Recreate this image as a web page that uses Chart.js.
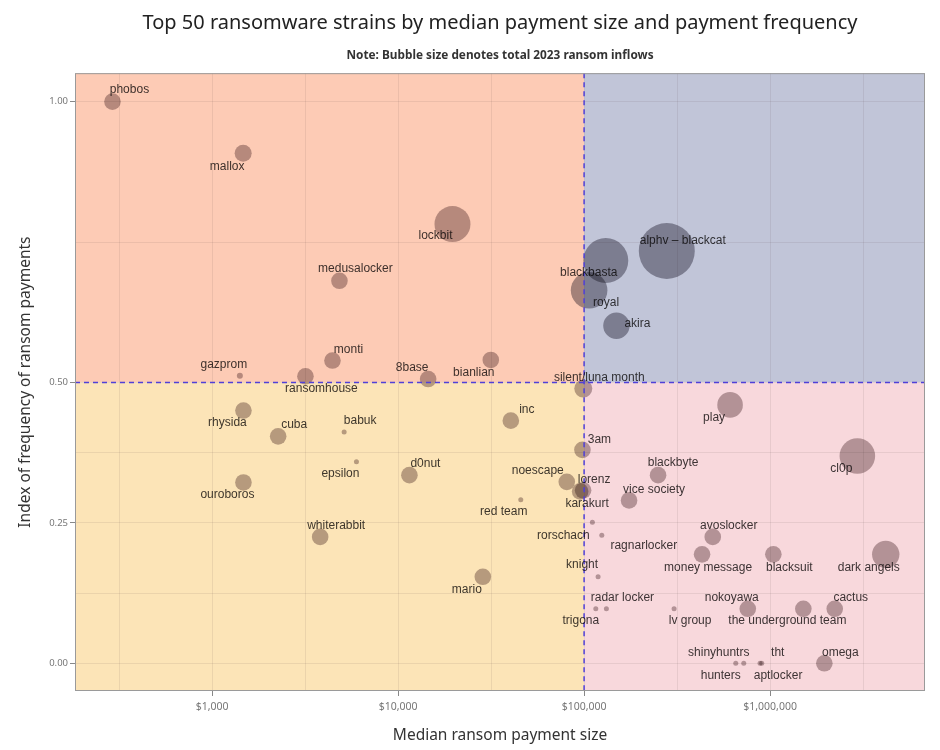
<!DOCTYPE html>
<html>
<head>
<meta charset="utf-8">
<script src="https://cdn.jsdelivr.net/npm/chart.js@4/dist/chart.umd.min.js"></script>
<style>
  html, body { margin: 0; background: #fff; }
  #wrap { width: 940px; height: 750px; }
</style>
</head>
<body>
<div id="wrap"><canvas id="myChart"></canvas></div>
<script>
// ransomware strains (order matters: every array below follows it)
const strains = ['phobos', 'mallox', 'lockbit', 'medusalocker', 'monti', 'gazprom', 'ransomhouse', '8base', 'bianlian', 'silent/luna month',
  'alphv \u2013 blackcat', 'blackbasta', 'royal', 'akira',
  'rhysida', 'cuba', 'babuk', 'epsilon', 'ouroboros', 'whiterabbit', 'd0nut', 'inc', 'noescape', 'red team', 'mario',
  'play', '3am', 'cl0p', 'blackbyte', 'lorenz', 'vice society', 'karakurt', 'rorschach', 'ragnarlocker', 'avoslocker',
  'money message', 'blacksuit', 'dark angels', 'knight', 'radar locker', 'trigona', 'lv group', 'nokoyawa',
  'the underground team', 'cactus', 'shinyhuntrs', 'hunters', 'tht', 'aptlocker', 'omega'];

// median ransom payment size (USD)
const medianPayment = [291, 1468, 19600, 4835, 4435, 1409, 3174, 14500, 31500, 99000,
  278400, 130800, 106400, 149200,
  1473, 2264, 5125, 5968, 1473, 3808, 11500, 40360, 80700, 45660, 28540,
  609500, 97950, 2947000, 249900, 98770, 174500, 95200, 110800, 124500, 491900,
  430900, 1041600, 4188000, 118900, 131800, 115600, 304700, 758900,
  1510000, 2227000, 654000, 722000, 902000, 883500, 1958000];

// index of frequency of ransom payments
const paymentIndex = [1.0, 0.908, 0.782, 0.681, 0.539, 0.512, 0.511, 0.506, 0.540, 0.489,
  0.734, 0.717, 0.664, 0.601,
  0.450, 0.404, 0.412, 0.359, 0.322, 0.225, 0.335, 0.432, 0.323, 0.291, 0.154,
  0.460, 0.380, 0.369, 0.335, 0.308, 0.290, 0.306, 0.251, 0.228, 0.225,
  0.194, 0.194, 0.194, 0.154, 0.097, 0.097, 0.097, 0.097,
  0.097, 0.097, 0, 0, 0, 0, 0];

// bubble size (total 2023 inflows), as bubble radius
const bubbleSize = [8.3, 8.5, 18, 8.3, 8.3, 3, 8.3, 8.3, 8.3, 9,
  28, 22.5, 18.3, 13.2,
  8.3, 8.3, 2.5, 2.5, 8.3, 8.3, 8.3, 8.3, 8.3, 2.5, 8.3,
  12.8, 8.3, 17.8, 8.3, 8.3, 8.3, 8.3, 2.5, 2.5, 8.3,
  8.3, 8.3, 13.7, 2.5, 2.5, 2.5, 2.5, 8.3,
  8.3, 8.3, 2.5, 2.5, 2.5, 2.5, 8.3];

// where each name sits relative to its bubble
const labelOffsets = [[17, -12], [-16, 13], [-17, 12], [16, -12], [16, -11], [-16, -11], [16, 12], [-16, -11], [-17, 13], [16, -11],
  [16, -10], [-17, 12], [17, 12], [21, -2],
  [-16, 12], [16, -12], [16, -11], [-16, 12], [-16, 12], [16, -11], [16, -11], [16, -11], [-29, -11], [-17, 12], [-16, 13],
  [-16, 13], [17, -10], [-16, 13], [15, -12], [11, -11], [25, -11], [7, 12], [-29, 13], [42, 10], [16, -11],
  [6, 13], [16, 13], [-17, 13], [-16, -12], [16, -11], [-15, 12], [16, 12], [-16, -11],
  [-16, 12], [16, -11], [-17, -11], [-23, 12], [16, -11], [18, 12], [16, -11]];

const xTickValues = [1000, 10000, 100000, 1000000];
const xTickLabels = ['$1,000', '$10,000', '$100,000', '$1,000,000'];
const xGridValues = [316.2, 1000, 3162, 10000, 31623, 100000, 316228, 1000000, 3162278];
const yTickValues = [0, 0.25, 0.5, 1];
const yTickLabels = ['0.00', '0.25', '0.50', '1.00'];
const yGridValues = [0, 0.125, 0.25, 0.375, 0.5, 0.75, 1];

const xSplit = 100000;
const ySplit = 0.5;

function findTick(list, v) {
  for (let i = 0; i < list.length; i++) {
    if (Math.abs(list[i] - v) / Math.max(1e-9, Math.abs(list[i]) || 1) < 0.001) return i;
  }
  return -1;
}

const quadrants = {
  id: 'quadrants',
  beforeDraw(chart) {
    const { ctx, chartArea: a, scales } = chart;
    const mx = scales.x.getPixelForValue(xSplit);
    const my = scales.y.getPixelForValue(ySplit);
    ctx.save();
    ctx.fillStyle = '#fdcbb5';
    ctx.fillRect(a.left, a.top, mx - a.left, my - a.top);
    ctx.fillStyle = '#c1c5d8';
    ctx.fillRect(mx, a.top, a.right - mx, my - a.top);
    ctx.fillStyle = '#fce4b7';
    ctx.fillRect(a.left, my, mx - a.left, a.bottom - my);
    ctx.fillStyle = '#f8d8dc';
    ctx.fillRect(mx, my, a.right - mx, a.bottom - my);
    ctx.restore();
  },
  beforeDatasetsDraw(chart) {
    chart.ctx.save();
    chart.ctx.globalCompositeOperation = 'multiply';
  },
  afterDatasetsDraw(chart) {
    const { ctx, chartArea: a, scales } = chart;
    ctx.restore();
    const mx = scales.x.getPixelForValue(xSplit);
    const my = scales.y.getPixelForValue(ySplit);
    ctx.save();
    ctx.strokeStyle = '#5040d8';
    ctx.lineWidth = 1.5;
    ctx.setLineDash([5, 4]);
    ctx.beginPath();
    ctx.moveTo(mx, a.top); ctx.lineTo(mx, a.bottom);
    ctx.moveTo(a.left, my); ctx.lineTo(a.right, my);
    ctx.stroke();
    ctx.setLineDash([]);
    ctx.strokeStyle = '#9a9a9a';
    ctx.lineWidth = 1;
    ctx.strokeRect(a.left + 0.5, a.top + 0.5, a.right - a.left - 1, a.bottom - a.top - 1);

    // strain names
    ctx.globalCompositeOperation = 'multiply';
    ctx.font = '12px "Liberation Sans", Arial, sans-serif';
    ctx.fillStyle = 'rgb(62,60,60)';
    ctx.textAlign = 'center';
    ctx.textBaseline = 'middle';
    const meta = chart.getDatasetMeta(0);
    meta.data.forEach((pt, i) => {
      ctx.fillText(strains[i], pt.x + labelOffsets[i][0], pt.y + labelOffsets[i][1]);
    });
    ctx.restore();
  }
};

const ctx = document.getElementById('myChart');
new Chart(ctx, {
  type: 'bubble',
  data: {
    datasets: [{
      data: strains.map((s, i) => ({ x: medianPayment[i], y: paymentIndex[i], r: bubbleSize[i] })),
      backgroundColor: (c) => {
        const i = c.dataIndex;
        if (medianPayment[i] > xSplit && paymentIndex[i] > ySplit) return 'rgb(164,162,170)';
        return 'rgb(184,172,174)';
      },
      borderWidth: 0,
      hoverBorderWidth: 0
    }]
  },
  plugins: [quadrants],
  options: {
    responsive: true,
    maintainAspectRatio: false,
    animation: false,
    layout: { autoPadding: false, padding: { left: 0, right: 15, top: 0, bottom: 0 } },
    plugins: {
      legend: { display: false },
      tooltip: { enabled: false },
      title: {
        display: true,
        fullSize: false,
        text: 'Top 50 ransomware strains by median payment size and payment frequency',
        color: '#222',
        font: { family: '"Noto Sans", sans-serif', size: 20, weight: 'normal' },
        padding: { top: 11, bottom: 0 }
      },
      subtitle: {
        display: true,
        fullSize: false,
        text: 'Note: Bubble size denotes total 2023 ransom inflows',
        color: '#333',
        font: { family: '"Noto Sans", sans-serif', size: 11.8, weight: 'bold' },
        padding: { top: 14, bottom: 10 }
      }
    },
    scales: {
      x: {
        type: 'logarithmic',
        min: 183,
        max: 6810000,
        afterFit: (s) => { s.height = 59; },
        afterBuildTicks: (s) => { s.ticks = xGridValues.map(v => ({ value: v })); },
        ticks: {
          autoSkip: false,
          maxRotation: 0,
          padding: 5,
          color: '#777',
          font: { family: '"Noto Sans", sans-serif', size: 10.5 },
          callback: (v) => {
            const i = findTick(xTickValues, v);
            return i >= 0 ? xTickLabels[i] : '';
          }
        },
        grid: {
          color: 'rgba(90,70,70,0.10)',
          tickLength: 5,
          tickColor: (c) => (c.tick && findTick(xTickValues, c.tick.value) >= 0) ? '#888' : 'rgba(0,0,0,0)'
        },
        border: { display: false },
        title: {
          display: true,
          text: 'Median ransom payment size',
          color: '#333',
          font: { family: '"Noto Sans", sans-serif', size: 15.5 },
          padding: { top: 0, bottom: 5 }
        }
      },
      y: {
        type: 'linear',
        min: -0.0493,
        max: 1.0506,
        afterFit: (s) => { s.width = 75; },
        afterBuildTicks: (s) => { s.ticks = yGridValues.map(v => ({ value: v })); },
        ticks: {
          autoSkip: false,
          padding: 2,
          color: '#777',
          font: { family: '"Noto Sans", sans-serif', size: 9.5 },
          callback: (v) => {
            const i = findTick(yTickValues, v);
            return i >= 0 ? yTickLabels[i] : '';
          }
        },
        grid: {
          color: 'rgba(90,70,70,0.10)',
          tickLength: 5,
          tickColor: (c) => (c.tick && findTick(yTickValues, c.tick.value) >= 0) ? '#888' : 'rgba(0,0,0,0)'
        },
        border: { display: false },
        title: {
          display: true,
          text: 'Index of frequency of ransom payments',
          color: '#333',
          font: { family: '"Noto Sans", sans-serif', size: 15.5 },
          padding: { top: 16, bottom: 0 }
        }
      }
    }
  }
});
</script>
</body>
</html>
